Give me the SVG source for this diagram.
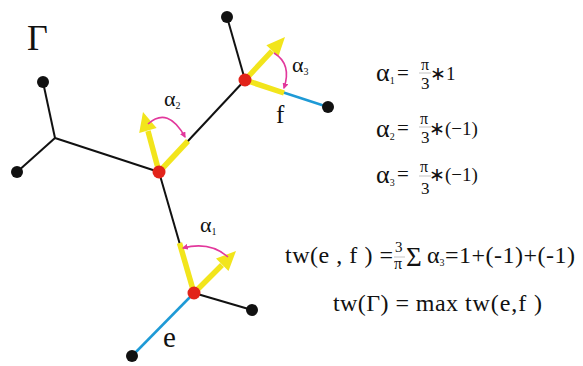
<svg xmlns="http://www.w3.org/2000/svg" width="583" height="366" viewBox="0 0 583 366">
<style>
.e{stroke:#111;stroke-width:2;fill:none}
.b{stroke:#1e9ad6;stroke-width:2.5;fill:none}
.y{stroke:#f2e51c;stroke-width:5.5;fill:none}
.ya{fill:#f2e51c}
.m{stroke:#e2389c;stroke-width:1.6;fill:none;marker-end:url(#mh)}
.dot{fill:#111}
.red{fill:#e2231a}
.bar{stroke:#aaa;stroke-width:0.7}
</style>
<defs>
<marker id="mh" viewBox="0 0 10 10" refX="8" refY="5" markerWidth="6" markerHeight="6" orient="auto" markerUnits="userSpaceOnUse">
<path d="M0,0 L10,5 L0,10 z" fill="#e2389c"/>
</marker>
</defs>
<rect width="583" height="366" fill="#fff"/>
<g id="connectors">
<line class="e" x1="43" y1="82" x2="55" y2="138"/>
<line class="e" x1="17" y1="172" x2="55" y2="138"/>
<line class="e" x1="55" y1="138" x2="159" y2="172"/>
<line class="e" x1="159" y1="172" x2="245" y2="80"/>
<line class="e" x1="245" y1="80" x2="227" y2="17"/>
<line class="b" x1="245" y1="80" x2="328" y2="107"/>
<line class="e" x1="159" y1="172" x2="194" y2="293"/>
<line class="e" x1="194" y1="293" x2="252" y2="310"/>
<line class="b" x1="194" y1="293" x2="132" y2="356"/>
<line class="y" x1="159" y1="172" x2="188" y2="141"/>
<line class="y" x1="245" y1="80" x2="284" y2="93"/>
<line class="y" x1="194" y1="293" x2="179.5" y2="243"/>
<line class="y" x1="159" y1="172" x2="148" y2="131"/>
<polygon class="ya" points="143,112 156.6,128.1 139.2,132.9"/>
<line class="y" x1="245" y1="80" x2="272" y2="51"/>
<polygon class="ya" points="285,37 278.4,56.6 266.4,45.2"/>
<line class="y" x1="194" y1="293" x2="222" y2="265"/>
<polygon class="ya" points="236,251 228.5,271 216,258.5"/>
<path class="m" d="M148,124 Q168,106 185,137"/>
<path class="m" d="M274,53 Q292,64 284,88"/>
<path class="m" d="M228,257 Q210,241 183,248"/>
</g>
<g id="n-leaf1"><circle class="dot" cx="43" cy="82" r="6"/></g>
<g id="n-leaf2"><circle class="dot" cx="17" cy="172" r="6"/></g>
<g id="n-leaf3"><circle class="dot" cx="227" cy="17" r="6"/></g>
<g id="n-leaf4"><circle class="dot" cx="328" cy="107" r="6"/></g>
<g id="n-leaf5"><circle class="dot" cx="252" cy="310" r="6"/></g>
<g id="n-leaf6"><circle class="dot" cx="132" cy="356" r="6"/></g>
<g id="n-mid"><circle class="red" cx="159" cy="172" r="6.5"/></g>
<g id="n-top"><circle class="red" cx="245" cy="80" r="6.5"/></g>
<g id="n-bot"><circle class="red" cx="194" cy="293" r="6.5"/></g>
<g id="labels" font-family="Liberation Serif, serif" fill="#111">
<text x="27" y="50" font-size="36">Γ</text>
<text x="164" y="106" font-size="22">α<tspan font-size="10" dy="3">2</tspan></text>
<text x="292" y="72" font-size="22">α<tspan font-size="10" dy="3">3</tspan></text>
<text x="200" y="232" font-size="22">α<tspan font-size="10" dy="3">1</tspan></text>
<text x="276" y="123" font-size="25">f</text>
<text x="163" y="347" font-size="29">e</text>
</g>
<g id="formulas" font-family="Liberation Serif, serif" fill="#111">
<text x="376" y="81" font-size="26">α<tspan font-size="10" dy="3">1</tspan></text>
<text x="397" y="80" font-size="21">=</text>
<text x="421" y="70" font-size="16">π</text>
<line class="bar" x1="419" y1="73" x2="431" y2="73"/>
<text x="421" y="89" font-size="17">3</text>
<text x="430" y="80" font-size="19">∗1</text>

<text x="376" y="137" font-size="26">α<tspan font-size="10" dy="3">2</tspan></text>
<text x="397" y="135" font-size="21">=</text>
<text x="420" y="124" font-size="16">π</text>
<line class="bar" x1="419" y1="127" x2="431" y2="127"/>
<text x="421" y="143" font-size="17">3</text>
<text x="429" y="135" font-size="19">∗(−1)</text>

<text x="376" y="183" font-size="26">α<tspan font-size="10" dy="3">3</tspan></text>
<text x="397" y="181" font-size="21">=</text>
<text x="420" y="172" font-size="16">π</text>
<line class="bar" x1="419" y1="176" x2="431" y2="176"/>
<text x="421" y="194" font-size="17">3</text>
<text x="429" y="181" font-size="19">∗(−1)</text>

<text x="285" y="263" font-size="24" textLength="108" lengthAdjust="spacing">tw(e , f ) =</text>
<text x="395" y="252" font-size="15">3</text>
<line class="bar" x1="394" y1="257" x2="405" y2="257"/>
<text x="394" y="269" font-size="16">π</text>
<text x="406" y="266" font-size="27">Σ</text>
<text x="427" y="263" font-size="24">α<tspan font-size="10" dy="3">3</tspan></text>
<text x="445" y="263" font-size="24" textLength="130" lengthAdjust="spacing">=1+(-1)+(-1)</text>

<text x="333" y="311" font-size="24" textLength="125" lengthAdjust="spacing">tw(Γ) = max</text>
<text x="465" y="311" font-size="24" textLength="77" lengthAdjust="spacing">tw(e,f )</text>
</g>
</svg>
